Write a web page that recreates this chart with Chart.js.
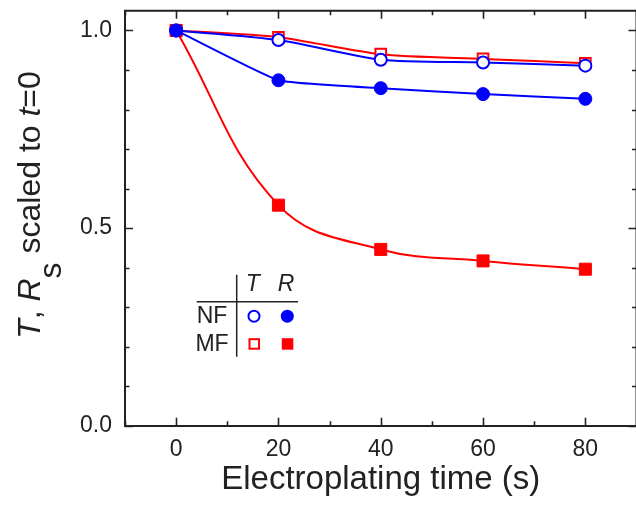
<!DOCTYPE html>
<html><head><meta charset="utf-8">
<script src="https://cdn.jsdelivr.net/npm/chart.js@4.4.1/dist/chart.umd.min.js"></script>
<style>
html,body{margin:0;padding:0;background:#fff;overflow:hidden;width:636px;height:511px}
#wrap{position:absolute;left:0;top:0;width:646px;height:511px}
</style>
</head><body><div id="wrap"><canvas id="c" width="646" height="511"></canvas></div>
<script>
// ---- data ----
const times = [0, 20, 40, 60, 80];
const tNF = [1.0, 0.976, 0.926, 0.919, 0.911];
const rNF = [1.0, 0.874, 0.854, 0.839, 0.827];
const tMF = [1.0, 0.983, 0.940, 0.928, 0.917];
const rMF = [1.0, 0.558, 0.446, 0.417, 0.396];
const xMajorTicks = [0, 20, 40, 60, 80];
const xMinorTicks = [-10, 10, 30, 50, 70, 90];
const yMajorTicks = [0.0, 0.5, 1.0];
const yMinorTicks = [0.1, 0.2, 0.3, 0.4, 0.6, 0.7, 0.8, 0.9];
const xTitle = 'Electroplating time (s)';
const legendRows = ['NF', 'MF'];
const legendCols = ['T', 'R'];

// ---- style ----
const FONT = "'Liberation Sans', Arial, Helvetica, sans-serif";
const INK = '#222222';
const BLUE = '#0000ff';
const RED = '#ff0000';
Chart.defaults.font.family = FONT;
Chart.defaults.color = INK;

const pts = ys => times.map((t, i) => ({x: t, y: ys[i]}));

const decor = {
  id: 'decor',
  afterDraw(chart) {
    const {ctx, chartArea: a, scales: {x, y}} = chart;
    ctx.save();
    // top & right frame
    ctx.strokeStyle = INK; ctx.lineWidth = 2;
    ctx.beginPath();
    ctx.moveTo(a.left - 1, a.top); ctx.lineTo(a.right, a.top); ctx.lineTo(a.right, a.bottom);
    ctx.stroke();
    // inward ticks
    ctx.lineWidth = 1.6;
    ctx.beginPath();
    const xt = (vals, len) => vals.forEach(v => {
      const p = Math.round(x.getPixelForValue(v)) + 0.5;
      ctx.moveTo(p, a.bottom); ctx.lineTo(p, a.bottom - len);
      ctx.moveTo(p, a.top); ctx.lineTo(p, a.top + len);
    });
    const yt = (vals, len) => vals.forEach(v => {
      const p = Math.round(y.getPixelForValue(v)) + 0.5;
      ctx.moveTo(a.left, p); ctx.lineTo(a.left + len, p);
      ctx.moveTo(a.right, p); ctx.lineTo(a.right - len, p);
    });
    xt(xMajorTicks, 8); xt(xMinorTicks, 4.5);
    yt(yMajorTicks, 8); yt(yMinorTicks, 4.5);
    ctx.stroke();

    // y-axis title with italics and subscript
    ctx.fillStyle = INK;
    ctx.save();
    ctx.translate(40, 205);
    ctx.rotate(-Math.PI / 2);
    const fs = 32;
    const parts = [
      {t: 'T', it: true, dy: 0}, {t: ', ', it: false, dy: 0}, {t: 'R', it: true, dy: 0},
      {t: 's', it: false, dy: 21}, {t: ' scaled to ', it: false, dy: 0},
      {t: 't', it: true, dy: 0}, {t: '=0', it: false, dy: 0}
    ];
    ctx.textBaseline = 'alphabetic'; ctx.textAlign = 'left';
    let total = 0;
    parts.forEach(p => { ctx.font = (p.it ? 'italic ' : '') + fs + 'px ' + FONT; p.w = ctx.measureText(p.t).width; total += p.w; });
    let cx = -total / 2;
    parts.forEach(p => { ctx.font = (p.it ? 'italic ' : '') + fs + 'px ' + FONT; ctx.fillText(p.t, cx, p.dy); cx += p.w; });
    ctx.restore();

    // legend table
    const L = a.left, T = a.top;
    ctx.strokeStyle = INK; ctx.lineWidth = 1.5;
    ctx.beginPath();
    ctx.moveTo(L + 111.7, T + 264); ctx.lineTo(L + 111.7, T + 346);
    ctx.moveTo(L + 71.7, T + 291); ctx.lineTo(L + 173, T + 291);
    ctx.stroke();
    ctx.textBaseline = 'middle'; ctx.textAlign = 'center';
    ctx.font = 'italic 23px ' + FONT;
    ctx.fillText(legendCols[0], L + 127.7, T + 274);
    ctx.fillText(legendCols[1], L + 161, T + 274);
    ctx.font = '23px ' + FONT;
    ctx.fillText(legendRows[0], L + 87, T + 306);
    ctx.fillText(legendRows[1], L + 87, T + 333.5);
    // markers
    ctx.lineWidth = 2;
    ctx.strokeStyle = BLUE; ctx.fillStyle = '#fff';
    ctx.beginPath(); ctx.arc(L + 129, T + 305.5, 5.5, 0, 2 * Math.PI); ctx.fill(); ctx.stroke();
    ctx.fillStyle = BLUE;
    ctx.beginPath(); ctx.arc(L + 162.3, T + 305.5, 6.5, 0, 2 * Math.PI); ctx.fill();
    ctx.strokeStyle = RED; ctx.fillStyle = '#fff';
    ctx.fillRect(L + 124.5, T + 328.5, 9.5, 9.5); ctx.strokeRect(L + 124.5, T + 328.5, 9.5, 9.5);
    ctx.fillStyle = RED;
    ctx.fillRect(L + 156.8, T + 327.5, 11.5, 11.5);
    ctx.restore();
  }
};

new Chart(document.getElementById('c'), {
  type: 'line',
  data: {
    datasets: [
      {label: 'NF R', data: pts(rNF), borderColor: BLUE, backgroundColor: BLUE, borderWidth: 2,
       pointStyle: 'circle', pointRadius: 6.5, pointBorderWidth: 1, tension: 0.12},
      {label: 'NF T', data: pts(tNF), borderColor: BLUE, backgroundColor: '#ffffff', borderWidth: 2,
       pointStyle: 'circle', pointRadius: 6, pointBorderWidth: 2, tension: 0.25},
      {label: 'MF T', data: pts(tMF), borderColor: RED, backgroundColor: '#ffffff', borderWidth: 2,
       pointStyle: 'rect', pointRadius: 7.5, pointBorderWidth: 2, tension: 0.25},
      {label: 'MF R', data: pts(rMF), borderColor: RED, backgroundColor: RED, borderWidth: 2,
       pointStyle: 'rect', pointRadius: 8.5, pointBorderWidth: 1, tension: 0.4}
    ]
  },
  options: {
    responsive: false,
    animation: false,
    devicePixelRatio: 1,
    layout: {padding: {left: 0, top: 10.7, right: 5.7, bottom: 0}},
    plugins: {legend: {display: false}, tooltip: {enabled: false}},
    scales: {
      x: {
        type: 'linear', min: -10, max: 90,
        grid: {display: false, drawTicks: false},
        border: {display: true, color: INK, width: 2},
        ticks: {font: {size: 23}, color: INK, padding: 10},
        afterBuildTicks: s => { s.ticks = xMajorTicks.map(v => ({value: v})); },
        afterFit: s => { s.height = 85.3; s.paddingLeft = 0; s.paddingRight = 0; },
        title: {display: true, text: xTitle, font: {size: 33}, color: INK, padding: {top: 0, bottom: 11}}
      },
      y: {
        type: 'linear', min: 0, max: 1.05,
        grid: {display: false, drawTicks: false},
        border: {display: true, color: INK, width: 2},
        ticks: {font: {size: 23}, color: INK, padding: 13, callback: v => v.toFixed(1)},
        afterBuildTicks: s => { s.ticks = yMajorTicks.map(v => ({value: v})); },
        afterFit: s => { s.width = 125; s.paddingTop = 0; s.paddingBottom = 0; }
      }
    }
  },
  plugins: [decor]
});
</script>
</body></html>
